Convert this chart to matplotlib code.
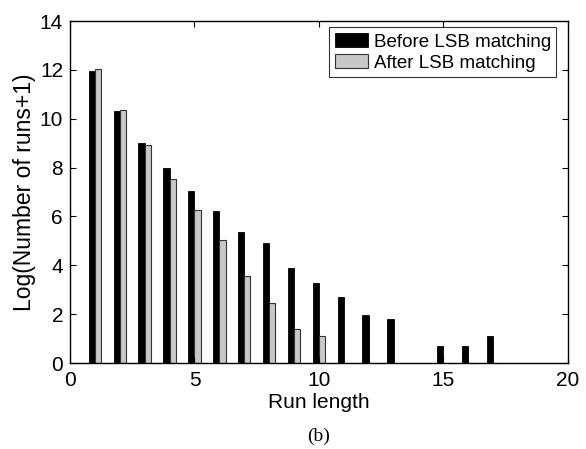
import matplotlib
matplotlib.use("Agg")
import matplotlib.pyplot as plt
import numpy as np

run_length = [1, 2, 3, 4, 5, 6, 7, 8, 9, 10, 11, 12, 13, 14, 15, 16, 17]
before = [11.95, 10.31, 9.01, 7.97, 7.05, 6.23, 5.36, 4.90, 3.90, 3.27, 2.70, 1.98, 1.80, 0.0, 0.71, 0.71, 1.11]
after = [12.02, 10.37, 8.94, 7.55, 6.26, 5.04, 3.58, 2.47, 1.38, 1.11, 0, 0, 0, 0, 0, 0, 0]
labels = ["Before LSB matching", "After LSB matching"]

plt.rcParams['font.family'] = ['Liberation Sans', 'DejaVu Sans']

fig = plt.figure(figsize=(5.86, 4.49), dpi=100)
ax = fig.add_axes([0.1195, 0.1915, 0.8495, 0.7615])

x = np.array(run_length)
w = 0.25
ax.bar(x - w/2, before, width=w, color='black', edgecolor='black', linewidth=0.6, label=labels[0])
ax.bar(x + w/2, after, width=w, color='#c8c8c8', edgecolor='#333333', linewidth=0.8, label=labels[1])

ax.set_xlim(0, 20)
ax.set_ylim(0, 14)
ax.set_xticks([0, 5, 10, 15, 20])
ax.set_yticks([0, 2, 4, 6, 8, 10, 12, 14])
ax.tick_params(direction='in', top=True, right=True, labelsize=15, length=4, width=0.8)
ax.tick_params(axis='x', pad=6)
ax.tick_params(axis='y', pad=5)
for s in ax.spines.values():
    s.set_linewidth(1.0)
ax.set_xlabel("Run length", fontsize=15, labelpad=2)
ax.set_ylabel("Log(Number of runs+1)", fontsize=16.5, labelpad=3)

leg = ax.legend(loc='upper right', bbox_to_anchor=(0.977, 0.982), fontsize=13.5, frameon=True, fancybox=False,
                edgecolor='black', borderaxespad=0.0, handlelength=1.75, handleheight=0.8,
                handletextpad=0.3, borderpad=0.3, labelspacing=0.18)
leg.get_frame().set_linewidth(0.8)

fig.text(0.543, 0.029, "(b)", ha='center', va='center', fontsize=14, family='Liberation Serif')

fig.savefig("out.png", dpi=100)
